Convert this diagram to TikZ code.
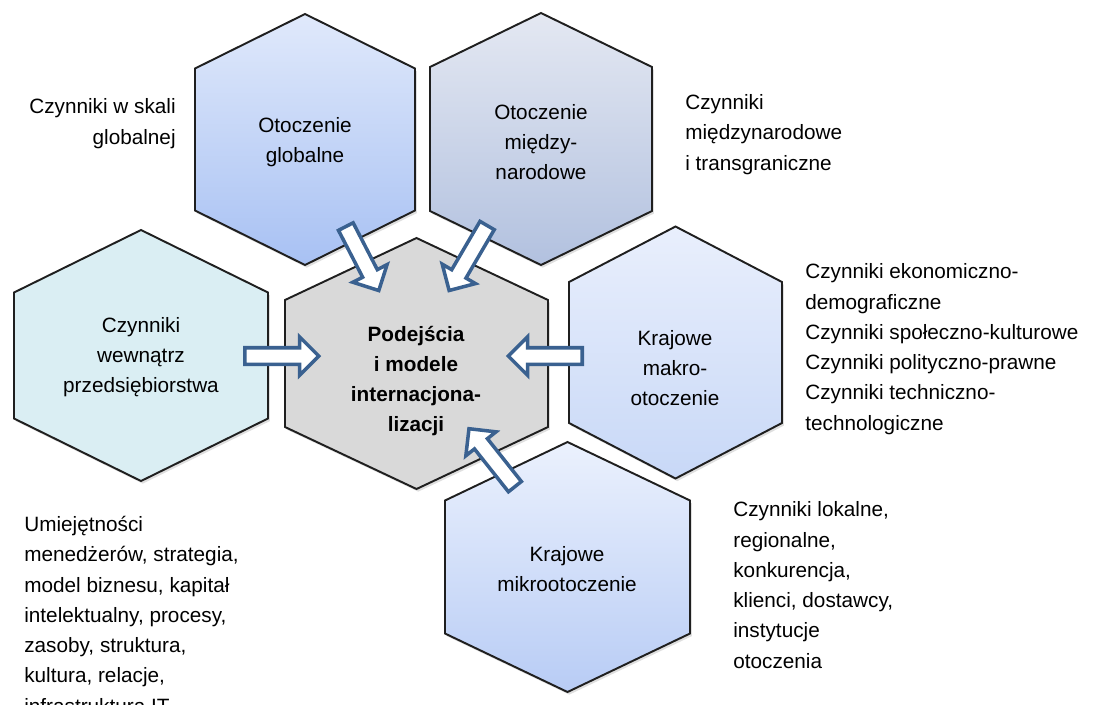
\documentclass[tikz,border=0pt]{standalone}
\usepackage{fontspec}
\setmainfont{Liberation Sans}
\usetikzlibrary{positioning,calc,shapes.arrows,shadows}

\definecolor{arrowblue}{HTML}{3A6190}
\definecolor{hexline}{HTML}{1F1F1F}
\definecolor{globtop}{HTML}{E0E9FB}
\definecolor{globbot}{HTML}{A8C1F3}
\definecolor{miedzytop}{HTML}{E4E8F2}
\definecolor{miedzybot}{HTML}{B2C1DF}
\definecolor{wewnfill}{HTML}{DAEEF3}
\definecolor{modelfill}{HTML}{D9D9D9}
\definecolor{makrotop}{HTML}{E9EFFC}
\definecolor{makrobot}{HTML}{C8D8F7}
\definecolor{mikrotop}{HTML}{EBF1FD}
\definecolor{mikrobot}{HTML}{B8CCF5}

\newcommand{\diagfont}{\fontsize{11.8pt}{17.2pt}\selectfont}
% centre x, centre y, half width, half side, half height, style
\newcommand{\hexa}[6]{\draw[#6] (#1,#2-#5) -- (#1+#3,#2-#4) -- (#1+#3,#2+#4) -- (#1,#2+#5) -- (#1-#3,#2+#4) -- (#1-#3,#2-#4) -- cycle;}

\begin{document}
\begin{tikzpicture}[x=0.02cm,y=-0.02cm,font=\diagfont,
  hexbox/.style={draw=hexline,line width=1.1pt,line join=miter,drop shadow={shadow xshift=1pt,shadow yshift=-1.5pt,opacity=0.25}},
  hextext/.style={inner sep=0pt,align=center},
  notes/.style={inner sep=0pt,align=left,anchor=base west},
  flow/.style={single arrow,draw=arrowblue,fill=white,line width=2pt,inner xsep=0pt,inner ysep=0.13cm,single arrow head extend=0.22cm,sloped,allow upside down,pos=0,anchor=tail}]
  \useasboundingbox (0,0) rectangle (1097,704);

  \hexa{305}{139.5}{110}{71}{125.5}{hexbox,top color=globtop,bottom color=globbot}
  \hexa{541}{139}{111}{72}{126}{hexbox,top color=miedzytop,bottom color=miedzybot}
  \hexa{141}{355.5}{127}{63}{125.5}{hexbox,fill=wewnfill}
  \hexa{416.5}{363.5}{131.5}{63.5}{125.5}{hexbox,fill=modelfill}
  \hexa{675.5}{352.5}{106.5}{70.5}{126}{hexbox,top color=makrotop,bottom color=makrobot}
  \hexa{567.5}{567}{122.5}{66.5}{125}{hexbox,top color=mikrotop,bottom color=mikrobot}

  \node[hextext] (glob) at (305,142) {Otoczenie\\globalne};
  \node[hextext] (miedzy) at (541,142) {Otoczenie\\między-\\narodowe};
  \node[hextext] (wewn) at (141,357) {Czynniki\\wewnątrz\\przedsiębiorstwa};
  \node[hextext,font=\diagfont\bfseries] (model) at (416,381) {Podejścia\\i modele\\internacjona-\\lizacji};
  \node[hextext] (makro) at (675,368) {Krajowe\\makro-\\otoczenie};
  \node[hextext] (mikro) at (567,569) {Krajowe\\mikrootoczenie};

  % anchored at the baseline of the last line
  \node[notes,anchor=base east,align=right] (globtxt) at (176,144) {Czynniki w skali\\globalnej};
  \node[notes] (miedzytxt) at (685,170) {Czynniki\\międzynarodowe\\i transgraniczne};
  \node[notes] (makrotxt) at (805,430) {Czynniki ekonomiczno-\\demograficzne\\Czynniki społeczno-kulturowe\\Czynniki polityczno-prawne\\Czynniki techniczno-\\technologiczne};
  \node[notes] (mikrotxt) at (733,668) {Czynniki lokalne,\\regionalne,\\konkurencja,\\klienci, dostawcy,\\instytucje\\otoczenia};
  \node[notes] (wewntxt) at (24,713) {Umiejętności\\menedżerów, strategia,\\model biznesu, kapitał\\intelektualny, procesy,\\zasoby, struktura,\\kultura, relacje,\\infrastruktura IT};

  \coordinate (t1) at (345,225); \coordinate (h1) at (378,289);
  \coordinate (t2) at (488,224); \coordinate (h2) at (450,289);
  \coordinate (t3) at (243,356); \coordinate (h3) at (317,356);
  \coordinate (t4) at (584,356); \coordinate (h4) at (510,356);
  \coordinate (t5) at (516,488); \coordinate (h5) at (470,430);
  \foreach \a in {1,...,5}
    \path let \p1=($(h\a)-(t\a)$), \n1={veclen(\x1,\y1)} in (t\a) -- (h\a) node[flow,minimum height=\n1] {};
\end{tikzpicture}
\end{document}
